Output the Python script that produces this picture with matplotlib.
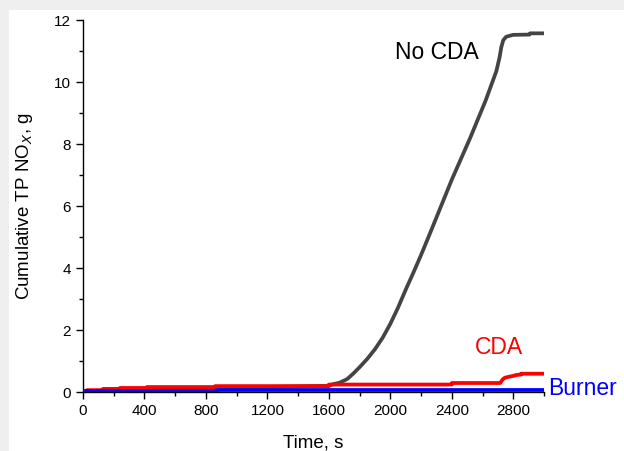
import matplotlib.pyplot as plt
from matplotlib.patches import Rectangle

plt.rcParams['font.family'] = ['Liberation Sans', 'DejaVu Sans']

# No CDA (cumulative, g)
t_nocda = [0, 200, 400, 800, 1200, 1600, 1625, 1670, 1720, 1760, 1800, 1850, 1900, 1950, 2000,
           2050, 2100, 2150, 2200, 2255, 2400, 2520, 2620, 2690, 2711, 2722, 2735, 2754, 2798,
           2905, 2910, 3000]
v_nocda = [0.0, 0.08, 0.1, 0.13, 0.16, 0.2, 0.25, 0.3, 0.42, 0.6, 0.8, 1.07, 1.38, 1.75, 2.2,
           2.72, 3.3, 3.85, 4.42, 5.08, 6.85, 8.2, 9.4, 10.35, 10.8, 11.12, 11.35, 11.46, 11.52,
           11.53, 11.57, 11.57]

# CDA
t_cda = [0, 26, 26, 130, 130, 240, 240, 416, 416, 860, 860, 1600, 1600, 2400, 2400,
         2715, 2730, 2745, 2770, 2800, 2820, 2850, 2850, 3000]
v_cda = [0.0, 0.0, 0.06, 0.06, 0.1, 0.1, 0.13, 0.13, 0.16, 0.16, 0.19, 0.19, 0.24, 0.24, 0.29,
         0.29, 0.4, 0.46, 0.49, 0.52, 0.55, 0.56, 0.59, 0.59]

# Burner
t_burner = [0, 160, 160, 870, 870, 2720, 2720, 3000]
v_burner = [0.02, 0.02, 0.04, 0.04, 0.05, 0.05, 0.08, 0.08]

fig = plt.figure(figsize=(6.24, 4.51), dpi=100)
fig.patch.set_facecolor('#efefef')
fig.add_artist(Rectangle((9 / 624, 0), 1, 1 - 10 / 451, transform=fig.transFigure,
                         facecolor='white', edgecolor='none', zorder=0))

ax = fig.add_axes([83 / 624, 1 - 392 / 451, (544 - 83) / 624, (392 - 20) / 451])
ax.set_facecolor('none')

ax.plot(t_nocda, v_nocda, color='#444444', lw=2.7, solid_capstyle='butt', zorder=2)
ax.plot(t_cda, v_cda, color='#ff0000', lw=2.7, solid_capstyle='butt', zorder=3)
ax.plot(t_burner, v_burner, color='#0000ff', lw=2.7, solid_capstyle='butt', zorder=4)

ax.set_xlim(0, 3000)
ax.set_ylim(0, 12)
ax.set_xticks(range(0, 3001, 400))
ax.set_xticks(range(200, 3001, 400), minor=True)
ax.set_yticks(range(0, 13, 2))
ax.set_yticks(range(1, 13, 2), minor=True)
ax.tick_params(which='major', direction='out', length=5, width=1, labelsize=11, color='black')
ax.tick_params(which='minor', direction='out', length=3, width=1)
ax.spines['top'].set_visible(False)
ax.spines['right'].set_visible(False)
ax.spines['left'].set_linewidth(1)
ax.spines['bottom'].set_linewidth(1)

ax.set_xlabel('Time, s', fontsize=13.5, labelpad=12)
ax.set_ylabel('Cumulative TP NO$_X$, g', fontsize=13.5, labelpad=14)

ax.text(2300, 10.95, 'No CDA', fontsize=16.5, color='black', ha='center', va='center')
ax.text(2705, 1.45, 'CDA', fontsize=16.5, color='#ff0000', ha='center', va='center')
ax.text(3025, 0.1, 'Burner', fontsize=16.5, color='#0000ff', ha='left', va='center', clip_on=False)

fig.savefig('out.png', dpi=100, facecolor=fig.get_facecolor())
